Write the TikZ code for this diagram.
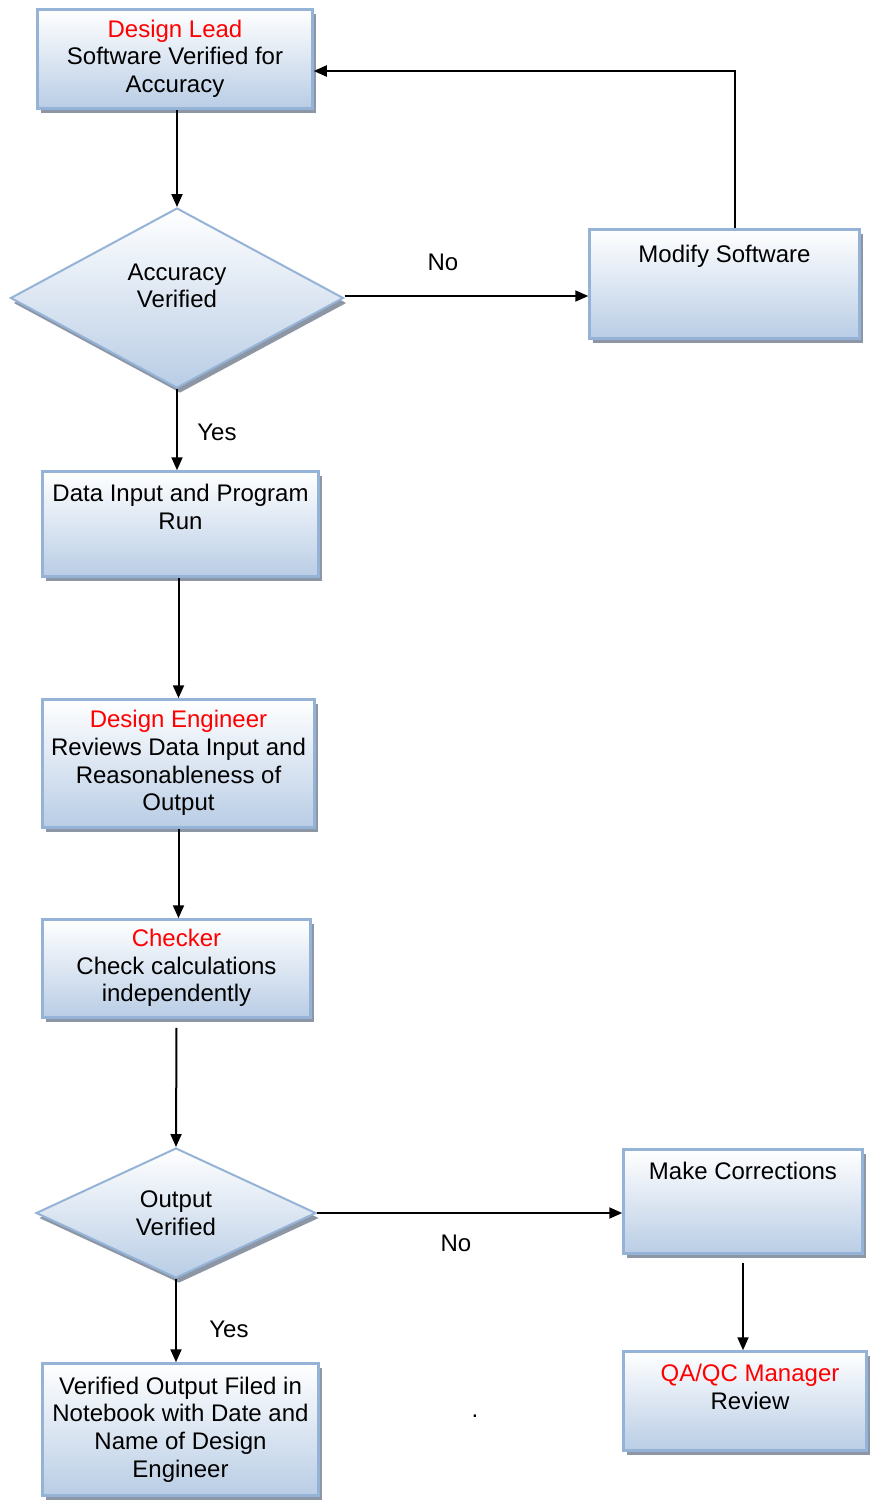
\documentclass[tikz,border=0pt]{standalone}
\usepackage{fontspec}
\setmainfont{Liberation Sans}
\usetikzlibrary{shapes.geometric,shadows,arrows.meta}
\definecolor{boxline}{RGB}{149,179,215}
\definecolor{boxfill}{RGB}{185,205,229}
\definecolor{shadowgray}{RGB}{140,150,165}
\definecolor{lblred}{RGB}{255,0,0}
\begin{document}
\begin{tikzpicture}[x=1pt,y=-1pt,
  every node/.style={font=\fontsize{24}{27.6}\selectfont},
  boxnode/.style={rectangle, draw=boxline, line width=2.5pt, top color=white, bottom color=boxfill,
    general shadow={fill=shadowgray, shadow xshift=3pt, shadow yshift=-4pt, draw=none},
    align=center, inner sep=0pt},
  decision/.style={diamond, draw=boxline, line width=2pt, top color=white, bottom color=boxfill,
    general shadow={fill=shadowgray, shadow xshift=3pt, shadow yshift=-5pt, draw=none},
    align=center, inner sep=0pt},
  toptext/.style={anchor=north, inner sep=0pt, align=center, yshift=-14pt},
  midtext/.style={anchor=center, inner sep=0pt, align=center},
  flow/.style={-{Triangle[length=13pt,width=11pt]}, line width=2pt},
  lbl/.style={inner sep=0pt}
]
\useasboundingbox (0,0) rectangle (870,1500);

% boxes
\node[boxnode, minimum width=275pt, minimum height=99pt, text depth=6pt] (lead) at (175,59)
  {{\color{lblred}Design Lead}\\Software Verified for\\Accuracy};
\node[decision, minimum width=333pt, minimum height=180pt,
  label={[midtext, yshift=12pt]center:Accuracy\\Verified}] (acc) at (177,298) {};
\node[boxnode, minimum width=270pt, minimum height=109pt,
  label={[toptext, yshift=-3pt]north:Modify Software}] (modify) at (724.5,284) {};
\node[boxnode, minimum width=276pt, minimum height=105pt,
  label={[toptext]north:Data Input and Program\\Run}] (data) at (180.5,524) {};
\node[boxnode, minimum width=272pt, minimum height=128pt, text depth=6pt] (eng) at (178.5,763.5)
  {{\color{lblred}Design Engineer}\\Reviews Data Input and\\Reasonableness of\\Output};
\node[boxnode, minimum width=268pt, minimum height=98pt, text depth=6pt] (check) at (176.5,968.5)
  {{\color{lblred}Checker}\\Check calculations\\independently};
\node[decision, minimum width=280pt, minimum height=130pt] (out) at (176,1213)
  {Output\\Verified};
\node[boxnode, minimum width=239pt, minimum height=104pt,
  label={[toptext]north:Make Corrections}] (corr) at (743,1201.5) {};
\node[boxnode, minimum width=243pt, minimum height=99pt,
  label={[toptext, xshift=5pt]north:{\color{lblred}QA/QC Manager}\\Review}] (qa) at (745,1401) {};
\node[boxnode, minimum width=276pt, minimum height=132pt] (final) at (180.5,1429.5)
  {Verified Output Filed in\\Notebook with Date and\\Name of Design\\Engineer};

% labels
\node[lbl] (no1) at (443,262) {No};
\node[lbl] (yes1) at (217,432) {Yes};
\node[lbl] (no2) at (456,1243) {No};
\node[lbl] (yes2) at (229,1329) {Yes};
\node[lbl] (dot) at (475,1416) {.};

% connectors
\draw[flow] (acc.north |- lead.south) -- (acc.north);
\draw[flow] ([yshift=2pt]acc.east) -- ([yshift=2pt]acc.east -| modify.west);
\draw[flow] ([xshift=10pt]modify.north) |- ([yshift=-12pt]lead.east);
\draw[flow] (acc.south) -- (acc.south |- data.north);
\draw[flow] (eng.north |- data.south) -- (eng.north);
\draw[flow] (eng.south) -- (eng.south |- check.north);
\draw[flow] ([yshift=-9pt]check.south) -- (out.north);
\draw[flow] (out.east) -- (out.east -| corr.west);
\draw[flow] ([yshift=-8pt]corr.south) -- (corr.south |- qa.north);
\draw[flow] (out.south) -- (out.south |- final.north);
\end{tikzpicture}
\end{document}
